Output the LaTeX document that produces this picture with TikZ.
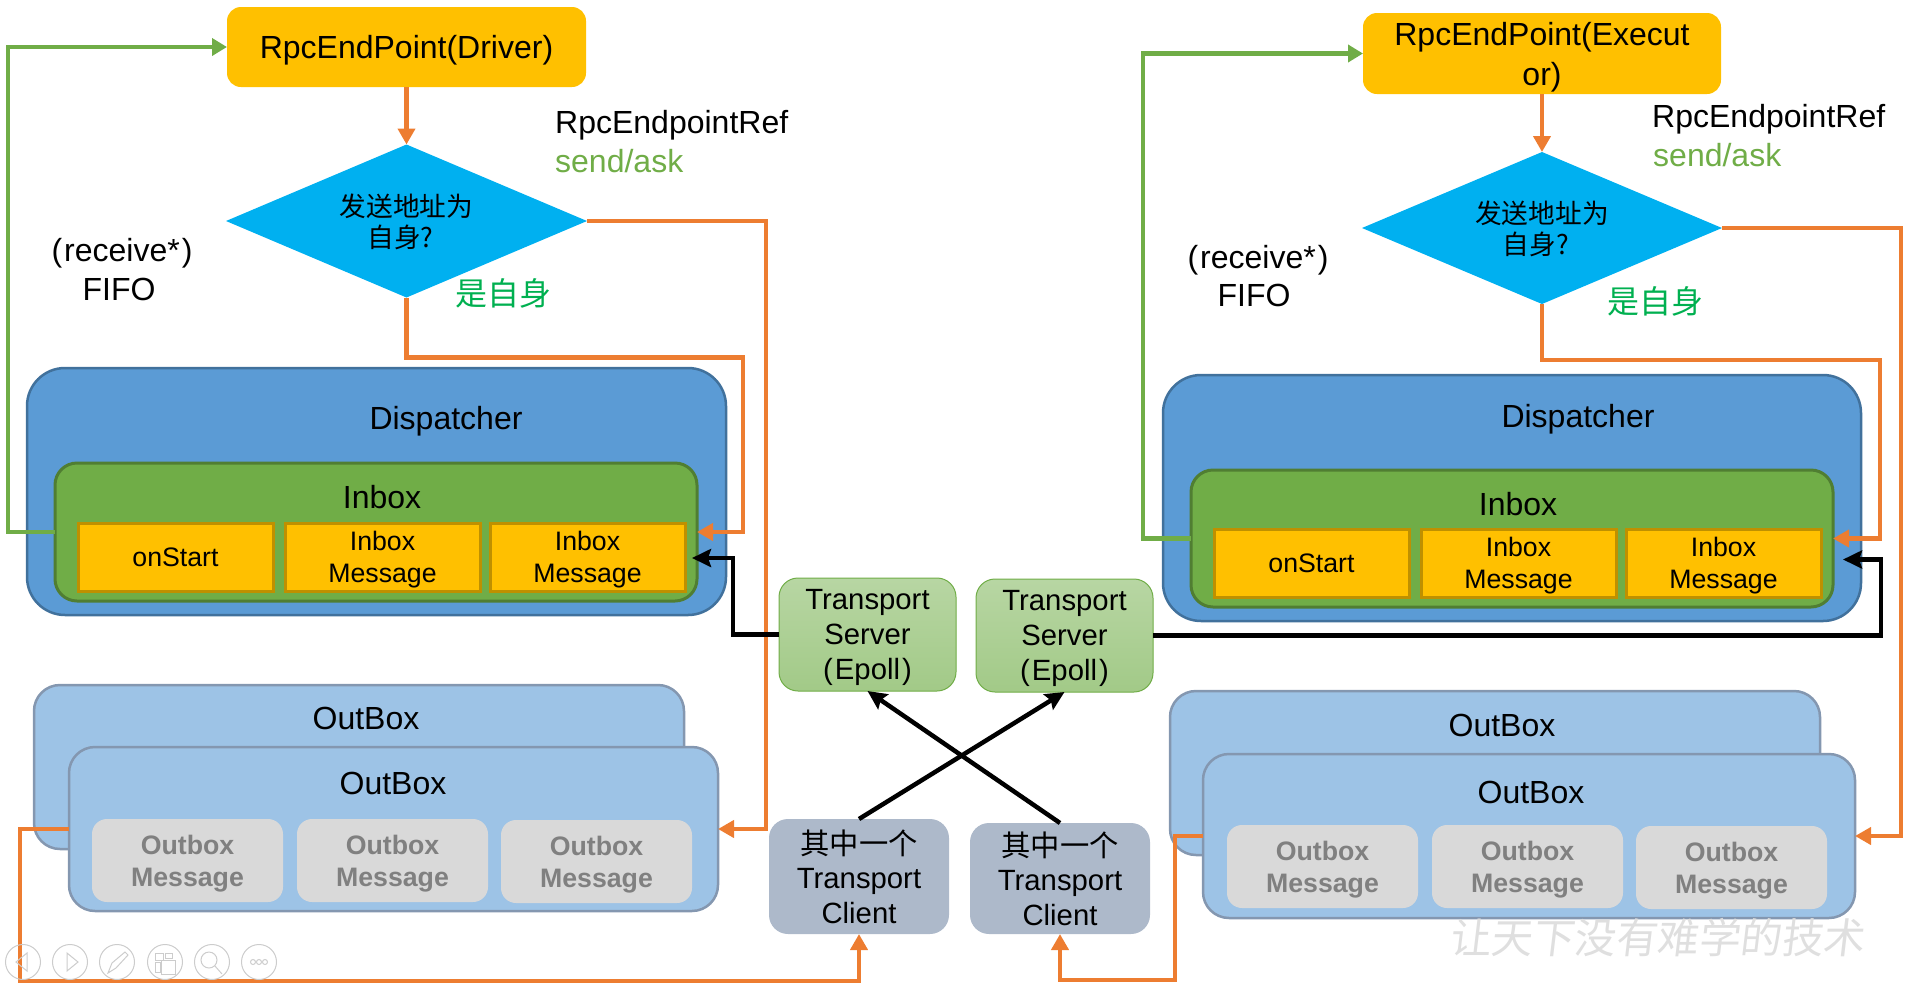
\documentclass[tikz,border=0pt]{standalone}
\usepackage{fontspec}
\setmainfont{Liberation Sans}
\newfontfamily\cjk{Noto Sans CJK SC}
\usetikzlibrary{arrows.meta,shapes.geometric}
\definecolor{gold}{HTML}{FFC000}
\definecolor{goldline}{HTML}{BF9000}
\definecolor{skyblue}{HTML}{00B0F0}
\definecolor{dispfill}{HTML}{5B9BD5}
\definecolor{displine}{HTML}{41719C}
\definecolor{inboxfill}{HTML}{70AD47}
\definecolor{inboxline}{HTML}{507E32}
\definecolor{outfill}{HTML}{9DC3E6}
\definecolor{outline}{HTML}{8497B0}
\definecolor{clientfill}{HTML}{ADB9CA}
\definecolor{selfgreen}{HTML}{00B050}
\definecolor{linkorange}{HTML}{ED7D31}
\begin{document}
\begin{tikzpicture}[x=1pt, y=-1pt,
            base/.style={
                anchor=north west,
                inner sep=0pt,
                outer sep=0pt,
                text depth=0pt,
                align=center
            },
            endpointbox/.style={
                base,
                fill=gold,
                rounded corners=14pt,
                font=\fontsize{32}{40}\selectfont
            },
            decision/.style={
                diamond,
                aspect=2.36,
                fill=skyblue,
                inner sep=0pt,
                outer sep=0pt,
                text depth=0pt,
                align=center,
                font=\fontsize{26.7}{31}\cjk
            },
            dispatchbox/.style={
                base,
                draw=displine,
                line width=2.5pt,
                fill=dispfill,
                rounded corners=38pt
            },
            inboxbox/.style={
                base,
                draw=inboxline,
                line width=3pt,
                fill=inboxfill,
                rounded corners=22pt
            },
            itembox/.style={
                base,
                draw=goldline,
                line width=3pt,
                fill=gold,
                minimum width=195pt,
                minimum height=68pt,
                font=\fontsize{26.7}{32}\selectfont
            },
            outbox/.style={
                base,
                draw=outline,
                line width=2.5pt,
                fill=outfill,
                rounded corners=26pt
            },
            msgbox/.style={
                base,
                fill=gray!30,
                text=gray,
                rounded corners=15pt,
                minimum width=191pt,
                minimum height=83pt,
                font=\fontsize{26.7}{32}\selectfont\bfseries
            },
            serverbox/.style={
                base,
                draw=inboxfill,
                line width=1pt,
                top color=inboxfill!50,
                bottom color=inboxfill!65,
                rounded corners=19pt,
                minimum width=177pt,
                minimum height=113pt,
                font=\fontsize{29.3}{35}\selectfont
            },
            clientbox/.style={
                base,
                fill=clientfill,
                rounded corners=19pt,
                minimum width=180pt,
                font=\fontsize{29.3}{34.8}\selectfont
            },
            label/.style={
                inner sep=0pt,
                text depth=0pt,
                align=center,
                font=\fontsize{32}{39}\selectfont
            },
            orangelink/.style={
                draw=linkorange,
                line width=4.5pt,
                -{Triangle[length=16pt,width=17pt]}
            },
            greenlink/.style={
                draw=inboxfill,
                line width=4.5pt,
                -{Triangle[length=15pt,width=17pt]}
            },
            blacklink/.style={
                draw=black,
                line width=4.5pt,
                -{Stealth[length=19pt,width=18pt,inset=3pt]}
            },
            toolbtn/.style={
                circle,
                draw=gray!40,
                line width=1pt,
                minimum size=35pt,
                inner sep=0pt
            },
            toolicon/.style={
                draw=gray!40,
                line width=1pt
            }
        ]
        \useasboundingbox (0,0) rectangle (1920,986);

        % Driver side, top
        \node[endpointbox, minimum width=359pt, minimum height=80pt] (driver) at (227,7) {RpcEndPoint(Driver)};
        \node[decision, minimum width=361pt, minimum height=153pt] (checkL) at (406.5,221) {发送地址为\\自身?\hspace*{12pt}};
        \node[label, anchor=west] (refL) at (555,122) {RpcEndpointRef};
        \node[label, anchor=west, text=inboxfill] (sendL) at (555,161) {send/ask};
        \node[label] (recvL) at (122,250) {(\kern2pt receive*\kern2pt)};
        \node[label] (fifoL) at (119,289) {FIFO};
        \node[label, text=selfgreen, font=\fontsize{32}{39}\cjk] (selfL) at (503,292) {是自身};

        % Driver side, dispatcher
        \node[dispatchbox, minimum width=699pt, minimum height=247pt] (dispL) at (27,368) {};
        \node[label] (dispLtext) at (446,418) {Dispatcher};
        \node[inboxbox, minimum width=642pt, minimum height=138pt] (inboxL) at (55,463) {};
        \node[label] (inboxLtext) at (382,497) {Inbox};
        \node[itembox] (startL) at (78,523) {onStart};
        \node[itembox] (itemLa) at (285,523) {Inbox\\Message};
        \node[itembox] (itemLb) at (490,523) {Inbox\\Message};

        % Driver side, outboxes
        \node[outbox, minimum width=650pt, minimum height=164pt] (backL) at (34,685) {};
        \node[label] (backLtext) at (366,718) {OutBox};
        \node[outbox, minimum width=649pt, minimum height=164pt] (frontL) at (69,747) {};
        \node[label] (frontLtext) at (393,783) {OutBox};
        \node[msgbox] (msgLa) at (92,819) {Outbox\\Message};
        \node[msgbox] (msgLb) at (297,819) {Outbox\\Message};
        \node[msgbox] (msgLc) at (501,820) {Outbox\\Message};

        % Executor side, top
        \node[endpointbox, minimum width=358pt, minimum height=81pt] (executor) at (1363,13) {RpcEndPoint(Execut\\or)};
        \node[decision, minimum width=360pt, minimum height=152pt] (checkR) at (1542,228) {发送地址为\\自身?\hspace*{12pt}};
        \node[label, anchor=west] (refR) at (1652,116) {RpcEndpointRef};
        \node[label, anchor=west, text=inboxfill] (sendR) at (1653,155) {send/ask};
        \node[label] (recvR) at (1258,257) {(\kern2pt receive*\kern2pt)};
        \node[label] (fifoR) at (1254,295) {FIFO};
        \node[label, text=selfgreen, font=\fontsize{32}{39}\cjk] (selfR) at (1655,300) {是自身};

        % Executor side, dispatcher
        \node[dispatchbox, minimum width=698pt, minimum height=246pt] (dispR) at (1163,375) {};
        \node[label] (dispRtext) at (1578,416) {Dispatcher};
        \node[inboxbox, minimum width=642pt, minimum height=137pt] (inboxR) at (1191,470) {};
        \node[label] (inboxRtext) at (1518,504) {Inbox};
        \node[itembox] (startR) at (1214,529) {onStart};
        \node[itembox] (itemRa) at (1421,529) {Inbox\\Message};
        \node[itembox] (itemRb) at (1626,529) {Inbox\\Message};

        % Executor side, outboxes
        \node[outbox, minimum width=650pt, minimum height=164pt] (backR) at (1170,691) {};
        \node[label] (backRtext) at (1502,725) {OutBox};
        \node[outbox, minimum width=652pt, minimum height=164pt] (frontR) at (1203,754) {};
        \node[label] (frontRtext) at (1531,792) {OutBox};
        \node[msgbox] (msgRa) at (1227,825) {Outbox\\Message};
        \node[msgbox] (msgRb) at (1432,825) {Outbox\\Message};
        \node[msgbox] (msgRc) at (1636,826) {Outbox\\Message};

        % Transport in the middle
        \node[serverbox] (serverL) at (779,578) {Transport\\Server\\(\kern2pt Epoll\kern2pt)};
        \node[serverbox] (serverR) at (976,579) {Transport\\Server\\(\kern2pt Epoll\kern2pt)};
        \node[clientbox, minimum height=115pt] (clientL) at (769,819) {{\cjk 其中一个}\\Transport\\Client};
        \node[clientbox, minimum height=111pt] (clientR) at (970,823) {{\cjk 其中一个}\\Transport\\Client};

        % Links
        \draw[orangelink] (driver.south) -- (checkL.north);
        \draw[orangelink] (checkL.south) -- ++(0,60) -- ++(336.5,0) |- (inboxL.east);
        \draw[orangelink] (checkL.east) -- ++(179,0) |- (frontL.east);
        \draw[blacklink] (serverL.west) -- ++(-46,0) |- ([xshift=-5pt,yshift=-26pt]inboxL.east);
        \draw[orangelink] (frontL.west) -- ++(-49,0) -- ++(0,152) -| (clientL.south);
        \draw[greenlink] (inboxL.west) -- ++(-47,0) |- (driver.west);
        \draw[orangelink] (executor.south) -- (checkR.north);
        \draw[orangelink] (checkR.south) -- ++(0,56) -- ++(338,0) |- (inboxR.east);
        \draw[orangelink] (checkR.east) -- ++(179,0) |- (frontR.east);
        \draw[orangelink] (frontR.west) -- ++(-28,0) -- ++(0,144) -| (clientR.south);
        \draw[greenlink] (inboxR.west) -- ++(-48,0) |- (executor.west);
        \draw[blacklink] (serverR.east) -- ++(728,0) |- ([xshift=10pt,yshift=-21pt]inboxR.east);
        \draw[blacklink] (clientL.north) -- (serverR.south);
        \draw[blacklink] (clientR.north) -- (serverL.south);

        % Watermark
        \node[label, text=gray!25, font=\fontsize{41.5}{48}\cjk, xslant=0.12] (mark) at (1659,936) {让天下没有难学的技术};

        % Player buttons
        \foreach \cx/\btn in {23/back,70/next,117/pen,165/grid,212/lens,259/more}
            \node[toolbtn] (\btn) at (\cx,962) {};
        \draw[toolicon] (16,962) -- (27,953) -- (27,971) -- cycle;
        \draw[toolicon] (67,953) -- (78,962) -- (67,971) -- cycle;
        \draw[toolicon] (108,973) -- (112,963) -- (125,952) -- (128,955) -- (116,968) -- cycle;
        \draw[toolicon] (155,953) rectangle (163,960) (165,953) rectangle (172,958) (155,962) rectangle (160,972) (161,960) rectangle (175,974);
        \draw[toolicon] (209,960) circle (8) (215,966) -- (222,974);
        \draw[toolicon] (253,962) circle (2.5) (259,962) circle (2.5) (265,962) circle (2.5);
\end{tikzpicture}
\end{document}
